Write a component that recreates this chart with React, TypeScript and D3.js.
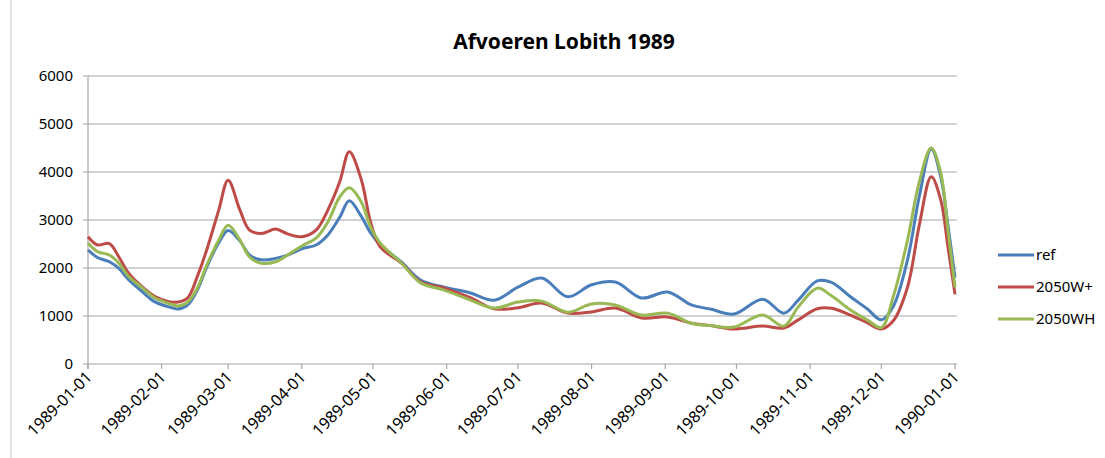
import React from "react";
import * as d3 from "d3";

const dates = [
  "1989-01-01", "1989-01-05", "1989-01-10", "1989-01-14", "1989-01-18", "1989-01-24", "1989-01-29",
  "1989-02-04", "1989-02-08", "1989-02-12", "1989-02-16", "1989-02-20", "1989-02-25",
  "1989-03-01", "1989-03-06", "1989-03-10", "1989-03-15", "1989-03-21", "1989-03-26",
  "1989-04-01", "1989-04-07", "1989-04-12", "1989-04-17", "1989-04-21", "1989-04-26", "1989-04-30",
  "1989-05-04", "1989-05-13", "1989-05-21", "1989-05-31",
  "1989-06-11", "1989-06-21", "1989-07-01", "1989-07-11", "1989-07-22",
  "1989-08-01", "1989-08-11", "1989-08-22", "1989-09-02", "1989-09-12", "1989-09-20", "1989-09-30",
  "1989-10-12", "1989-10-21", "1989-10-27", "1989-11-04", "1989-11-10", "1989-11-18", "1989-11-25",
  "1989-12-01", "1989-12-06", "1989-12-12", "1989-12-17", "1989-12-22", "1989-12-26", "1989-12-29",
  "1990-01-01",
];

const refValues = [
  2375, 2220, 2130, 1990, 1760, 1500, 1300,
  1190, 1145, 1230, 1540, 2020, 2520,
  2780, 2560, 2270, 2170, 2200, 2270,
  2400, 2480, 2690, 3060, 3400, 3080, 2730,
  2480, 2120, 1750, 1600,
  1480, 1330, 1600, 1790, 1400,
  1650, 1710, 1375, 1500, 1230, 1145, 1040,
  1350, 1060, 1330, 1730, 1700, 1400, 1150,
  920, 1200, 2170, 3500, 4480, 3900, 2900,
  1800,
];

const wPlusValues = [
  2650, 2480, 2510, 2230, 1900, 1600, 1410,
  1300, 1290, 1380, 1820, 2380, 3200,
  3830, 3200, 2790, 2720, 2810, 2710,
  2650, 2790, 3210, 3800, 4420, 3850, 2950,
  2440, 2100, 1710, 1580,
  1380, 1150, 1170, 1270, 1060,
  1085, 1165, 960, 980, 850, 800, 730,
  790, 750, 920, 1150, 1160, 1020, 860,
  730, 900, 1600, 2900, 3900, 3420, 2450,
  1450,
];

const whValues = [
  2520, 2340, 2270, 2100, 1830, 1580, 1380,
  1260, 1210, 1290, 1580, 2060, 2580,
  2890, 2580, 2230, 2100, 2130, 2270,
  2460, 2620, 2960, 3480, 3670, 3380, 2850,
  2520, 2100, 1690, 1540,
  1330, 1165, 1290, 1310, 1080,
  1250, 1230, 1020, 1060, 850, 800, 770,
  1020, 790, 1190, 1580, 1420, 1125, 920,
  760, 1400, 2580, 3800, 4500, 3980, 2800,
  1600,
];

const monthTicks = [
  "1989-01-01", "1989-02-01", "1989-03-01", "1989-04-01", "1989-05-01", "1989-06-01",
  "1989-07-01", "1989-08-01", "1989-09-01", "1989-10-01", "1989-11-01", "1989-12-01",
  "1990-01-01",
];

const yTicks = [0, 1000, 2000, 3000, 4000, 5000, 6000];

const seriesNames = ["ref", "2050W+", "2050WH"];
const seriesColors = ["#4a7ebb", "#be4b48", "#98b954"];
const seriesValues = [refValues, wPlusValues, whValues];

const W = 1105;
const H = 458;
const margin = { left: 88, right: 148, top: 76, bottom: 94 };
const font = "'Noto Sans', 'Open Sans', sans-serif";

const App = () => {
  const parse = d3.utcParse("%Y-%m-%d");
  const x = d3
    .scaleUtc()
    .domain([parse("1989-01-01")!, parse("1990-01-01")!])
    .range([margin.left, W - margin.right - 2]);
  const y = d3
    .scaleLinear()
    .domain([0, 6000])
    .range([H - margin.bottom, margin.top]);

  const pts = dates.map((d) => parse(d)!);
  const line = d3
    .line<number>()
    .x((_, i) => x(pts[i]))
    .y((v) => y(v))
    .curve(d3.curveCatmullRom.alpha(0.5));

  const x0 = margin.left;
  const x1 = W - margin.right;
  const y0 = y(0);

  return (
    <svg
      width={W}
      height={H}
      style={{ position: "absolute", left: 0, top: 0, background: "#fff" }}
      fontFamily={font}
    >
      <line x1={11} x2={11} y1={0} y2={H} stroke="#c8c8c8" />

      <text x={564} y={49} textAnchor="middle" fontSize={21} fontWeight="bold" fill="#000">
        Afvoeren Lobith 1989
      </text>

      {/* grid + y labels */}
      {yTicks.map((t) => (
        <g key={t}>
          <line x1={x0 - 5} x2={x1} y1={y(t)} y2={y(t)} stroke="#a6a6a6" strokeWidth={1.2} />
          <text x={73} y={y(t)} dy="0.35em" textAnchor="end" fontSize={15} fill="#000">
            {t}
          </text>
        </g>
      ))}

      {/* axes */}
      <line x1={x0} x2={x0} y1={margin.top} y2={y0 + 5} stroke="#a6a6a6" strokeWidth={1.2} />
      {monthTicks.map((m) => {
        const tx = x(parse(m)!);
        return (
          <g key={m}>
            <line x1={tx} x2={tx} y1={y0} y2={y0 + 5} stroke="#a6a6a6" strokeWidth={1.2} />
            <text
              transform={`translate(${tx + 5},${y0 + 14}) rotate(-45)`}
              textAnchor="end"
              fontSize={16}
              fill="#000"
            >
              {m}
            </text>
          </g>
        );
      })}

      {/* series */}
      {seriesValues.map((vals, i) => (
        <path
          key={seriesNames[i]}
          d={line(vals) || ""}
          fill="none"
          stroke={seriesColors[i]}
          strokeWidth={3}
          strokeLinejoin="round"
        />
      ))}

      {/* legend */}
      {seriesNames.map((n, i) => (
        <g key={n} transform={`translate(998,${255 + i * 32})`}>
          <line x1={0} x2={36} y1={0} y2={0} stroke={seriesColors[i]} strokeWidth={3} />
          <text x={38} y={0} dy="0.35em" fontSize={15} fill="#000">
            {n}
          </text>
        </g>
      ))}
    </svg>
  );
};

export default App;
